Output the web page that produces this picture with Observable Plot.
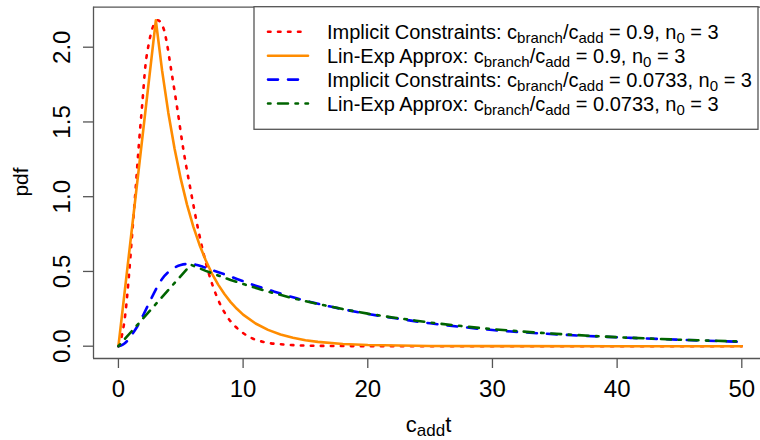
<!DOCTYPE html>
<html><head><meta charset="utf-8">
<script src="https://cdn.jsdelivr.net/npm/d3@7"></script>
<script src="https://cdn.jsdelivr.net/npm/@observablehq/plot@0.6"></script>
<style>
html,body{margin:0;padding:0;background:#fff;}
#chart{width:760px;height:440px;}
</style></head><body><div id="chart"></div>
<script>
// ---- data ----
const xDomain = [-2, 51.5];
const yDomain = [-0.0823, 2.2676];
const xTicks = [0, 10, 20, 30, 40, 50];
const yTicks = [0, 0.5, 1, 1.5, 2];
const yTickLabels = ["0.0", "0.5", "1.0", "1.5", "2.0"];

// Implicit Constraints, c_branch/c_add = 0.9
const redX = [0, 0.3, 0.56, 0.83, 1.1, 1.36, 1.63, 1.9, 2.17, 2.45, 2.7, 3.15, 3.64, 3.9, 4.17, 4.7, 5.2, 5.8, 6.4, 7.2, 7.9, 8.7, 9.4, 10.05, 10.8, 11.65, 13.3, 15, 17, 20, 25, 30, 40, 50];
const redY = [0, 0.08, 0.22, 0.46, 0.75, 1.03, 1.34, 1.61, 1.88, 2.03, 2.12, 2.18, 2.12, 2.02, 1.88, 1.6, 1.32, 1.04, 0.78, 0.5, 0.33, 0.2, 0.13, 0.085, 0.05, 0.028, 0.011, 0.004, 0.0015, 0.0004, 0, 0, 0, 0];
// Lin-Exp Approx, 0.9
const orangeX = [0, 3, 3.5, 4, 4.5, 5, 5.5, 6, 6.5, 7, 7.5, 8, 8.5, 9, 9.5, 10, 11, 12, 13, 14, 15, 16, 18, 20, 25, 30, 40, 50];
const orangeY = [0, 2.18, 1.845, 1.562, 1.322, 1.119, 0.947, 0.802, 0.679, 0.575, 0.486, 0.412, 0.349, 0.295, 0.25, 0.211, 0.152, 0.109, 0.078, 0.056, 0.04, 0.029, 0.015, 0.0075, 0.0014, 0.0003, 0, 0];
// Implicit Constraints, 0.0733
const blueX = [0, 0.35, 0.7, 1.1, 1.5, 2, 2.7, 3.5, 4.4, 5, 5.6, 6.2, 6.8, 7.5, 8.2, 9.5, 11, 12.5, 14.3, 17, 19.7, 22.35, 25, 27.7, 30, 33, 37, 41, 45, 50];
const blueY = [0, 0.01, 0.035, 0.08, 0.13, 0.21, 0.33, 0.45, 0.52, 0.543, 0.55, 0.545, 0.53, 0.51, 0.49, 0.45, 0.405, 0.365, 0.32, 0.265, 0.22, 0.185, 0.153, 0.127, 0.108, 0.09, 0.071, 0.056, 0.043, 0.029];
// Lin-Exp Approx, 0.0733
const greenX = [0, 5.8, 7, 8, 9, 10, 12, 14, 16, 18, 20, 22, 25, 28, 30, 33, 36, 40, 45, 50];
const greenY = [0, 0.545, 0.504, 0.473, 0.443, 0.416, 0.365, 0.321, 0.282, 0.248, 0.218, 0.192, 0.158, 0.13, 0.114, 0.094, 0.078, 0.06, 0.043, 0.031];

const methods = ["Implicit Constraints", "Lin-Exp Approx", "Implicit Constraints", "Lin-Exp Approx"];
const ratios = ["0.9", "0.9", "0.0733", "0.0733"];
const n0 = "3";
const colors = ["#ff0000", "#ff8c00", "#0000ff", "#006400"];
const dashes = ["2.5,7.5", null, "10,10", "2.5,7.5,10,7.5"];
const curves = ["monotone-x", "linear", "monotone-x", "linear"];
const seriesX = [redX, orangeX, blueX, greenX];
const seriesY = [redY, orangeY, blueY, greenY];

// ---- chart ----
const FONT = "'Liberation Sans', Arial, Helvetica, sans-serif";
const LW = 2.6;
const frameColor = "#555";

const lineMarks = seriesX.map((xs, k) =>
  Plot.line(xs.map((x, i) => ({x, y: seriesY[k][i]})), {
    x: "x", y: "y", stroke: colors[k], strokeWidth: LW,
    strokeDasharray: dashes[k] ?? undefined, strokeLinecap: "round", strokeLinejoin: "round",
    curve: curves[k]
  })
);

const plot = Plot.plot({
  width: 760, height: 440,
  marginLeft: 93, marginRight: 0, marginTop: 6.7, marginBottom: 82,
  style: {fontFamily: FONT, fontSize: "24px", color: "#000", background: "#fff", overflow: "visible"},
  x: {domain: xDomain, label: null},
  y: {domain: yDomain, label: null},
  marks: [
    Plot.ruleY([yDomain[0]], {stroke: frameColor, strokeWidth: 1.3}),
    Plot.ruleY([yDomain[1]], {stroke: frameColor, strokeWidth: 1.3}),
    Plot.ruleX([xDomain[0]], {stroke: frameColor, strokeWidth: 1.3}),
    ...lineMarks,
    Plot.axisX({ticks: xTicks, tickSize: 10, tickPadding: 11, fontSize: 24, stroke: frameColor, strokeWidth: 1.3, label: null, tickFormat: d => String(d)}),
    Plot.axisY({ticks: yTicks, tickSize: 10, stroke: frameColor, strokeWidth: 1.3, label: null, tickFormat: () => ""}),
    Plot.text(yTicks, {y: d => d, text: (d, i) => yTickLabels[i], frameAnchor: "left", dx: -23.7,
      rotate: -90, textAnchor: "middle", lineAnchor: "bottom", fontSize: 24, fill: "#000"})
  ]
});
document.getElementById("chart").appendChild(plot);

// ---- axis titles & legend ----
const svg = d3.select(plot);
svg.append("text")
  .attr("transform", "translate(27.6,182) rotate(-90)")
  .attr("text-anchor", "middle").attr("font-size", 21).attr("font-family", FONT).attr("fill", "#000")
  .text("pdf");

const xl = svg.append("text").attr("x", 428.5).attr("y", 431.7)
  .attr("text-anchor", "middle").attr("font-size", 22).attr("font-family", FONT).attr("fill", "#000");
xl.append("tspan").text("c");
xl.append("tspan").attr("font-size", 17).attr("dy", 4).text("add");
xl.append("tspan").attr("dy", -4).text("t");

const lg = svg.append("g").attr("font-family", FONT).attr("fill", "#000").attr("text-anchor", "start");
lg.append("rect").attr("x", 254).attr("y", 6.7).attr("width", 504).attr("height", 122.6)
  .attr("fill", "#fff").attr("stroke", frameColor).attr("stroke-width", 1.3);
methods.forEach((m, k) => {
  const base = 39.3 + k * 23.9;
  const ln = lg.append("line").attr("x1", 268).attr("x2", 308).attr("y1", base - 7.5).attr("y2", base - 7.5)
    .attr("stroke", colors[k]).attr("stroke-width", LW).attr("stroke-linecap", "round");
  if (dashes[k]) ln.attr("stroke-dasharray", dashes[k]);
  const t = lg.append("text").attr("x", 327).attr("y", base).attr("font-size", 20)
    .attr("text-anchor", "start").style("white-space", "pre");
  t.append("tspan").text(m + ": c");
  t.append("tspan").attr("font-size", 15).attr("dy", 4).text("branch");
  t.append("tspan").attr("dy", -4).text("/c");
  t.append("tspan").attr("font-size", 15).attr("dy", 4).text("add");
  t.append("tspan").attr("dy", -4).text(" = " + ratios[k] + ", n");
  t.append("tspan").attr("font-size", 15).attr("dy", 4).text("0");
  t.append("tspan").attr("dy", -4).text(" = " + n0);
});
</script></body></html>
